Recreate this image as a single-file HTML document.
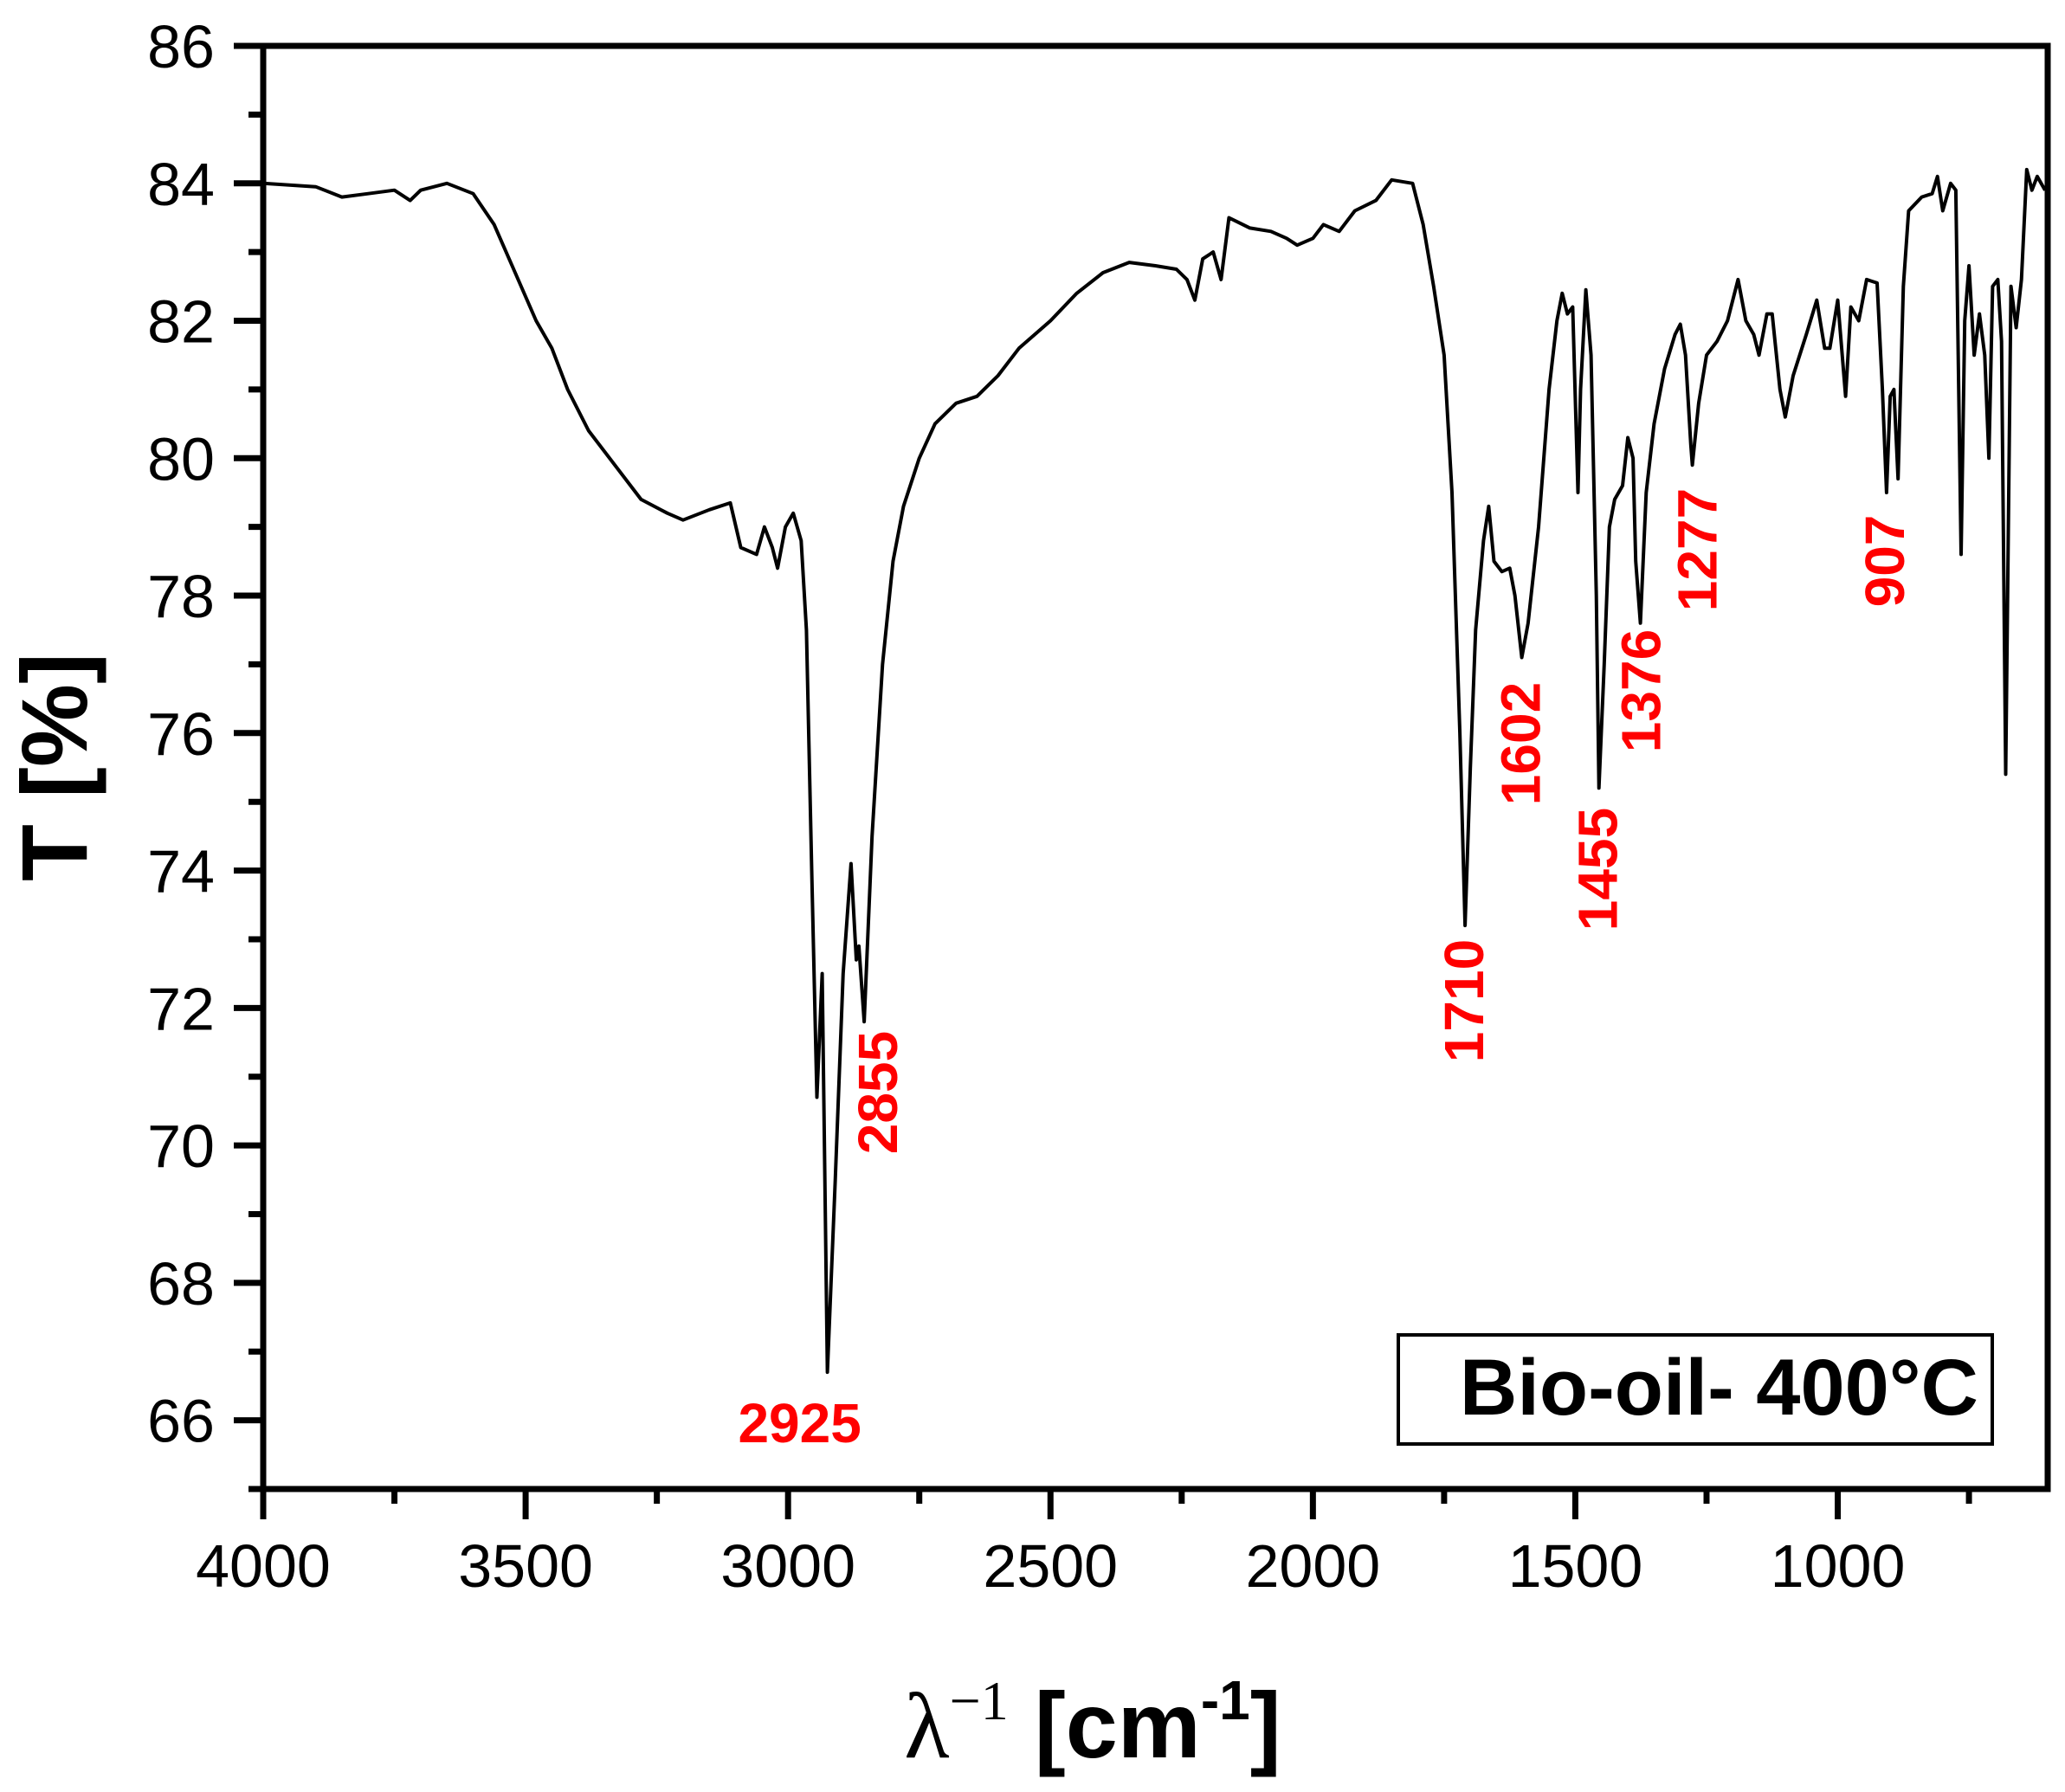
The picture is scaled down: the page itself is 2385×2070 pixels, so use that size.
<!DOCTYPE html>
<html><head><meta charset="utf-8"><style>
html,body{margin:0;padding:0;background:#fff;}
svg{display:block;font-family:"Liberation Sans",Arial,sans-serif;}
</style></head><body>
<svg id="chart" width="2385" height="2070" viewBox="0 0 2385 2070" xmlns="http://www.w3.org/2000/svg">
<g id="axes"></g>
<path id="spectrum" fill="none" stroke="#000" stroke-width="4" stroke-linejoin="round"></path>
<g id="peaks"></g>
<rect x="1615" y="1542" width="686" height="126" fill="#fff" stroke="#000" stroke-width="4"/>
<text x="2285" y="1634" text-anchor="end" font-size="92" font-weight="bold">Bio-oil- 400°C</text>
<text transform="translate(100,886) rotate(-90)" text-anchor="middle" font-size="108" font-weight="bold">T [%]</text>
<text x="1262" y="2030" text-anchor="middle" font-size="108" font-weight="bold"><tspan font-family="'Liberation Serif',serif" font-weight="normal">λ</tspan><tspan font-family="'Liberation Serif',serif" font-weight="normal" font-size="64" dy="-44">−1</tspan><tspan dy="44"> [cm</tspan><tspan font-size="64" dy="-44">-1</tspan><tspan dy="44">]</tspan></text>
</svg>
<script>
const wavenumbers=[4000,3900,3850,3800,3750,3720,3700,3650,3600,3560,3520,3480,3450,3420,3380,3330,3280,3230,3200,3150,3110,3090,3060,3045,3030,3020,3005,2990,2975,2965,2955,2945,2935,2925,2910,2895,2880,2870,2865,2855,2840,2820,2800,2780,2750,2720,2680,2640,2600,2560,2500,2450,2400,2350,2300,2260,2240,2225,2210,2190,2175,2160,2120,2080,2050,2030,2000,1980,1950,1920,1880,1850,1810,1790,1770,1750,1735,1720,1710,1700,1690,1675,1665,1655,1640,1625,1615,1602,1590,1570,1550,1535,1525,1515,1505,1495,1490,1480,1470,1460,1455,1445,1435,1425,1410,1400,1390,1385,1376,1365,1350,1330,1310,1300,1290,1280,1277,1265,1250,1230,1210,1190,1175,1160,1150,1135,1125,1110,1100,1085,1060,1040,1025,1015,1000,985,975,960,945,925,915,907,900,893,885,875,865,840,820,810,800,785,775,765,758,750,740,730,720,712,705,695,688,680,670,660,650,640,630,620,605];
const transmittance=[84.0,83.95,83.8,83.85,83.9,83.75,83.9,84.0,83.85,83.4,82.7,82.0,81.6,81.0,80.4,79.9,79.4,79.2,79.1,79.25,79.35,78.7,78.6,79.0,78.7,78.4,79.0,79.2,78.8,77.5,74.0,70.7,72.5,66.7,69.5,72.5,74.1,72.7,72.9,71.8,74.5,77.0,78.5,79.3,80.0,80.5,80.8,80.9,81.2,81.6,82.0,82.4,82.7,82.85,82.8,82.75,82.6,82.3,82.9,83.0,82.6,83.5,83.35,83.3,83.2,83.1,83.2,83.4,83.3,83.6,83.75,84.05,84.0,83.4,82.5,81.5,79.5,76.0,73.2,75.5,77.5,78.8,79.3,78.5,78.35,78.4,78.0,77.1,77.6,79.0,81.0,82.0,82.4,82.1,82.2,79.5,81.0,82.45,81.5,78.0,75.2,77.0,79.0,79.4,79.6,80.3,80.0,78.5,77.6,79.5,80.5,81.3,81.8,81.95,81.5,80.2,79.9,80.8,81.5,81.7,82.0,82.6,82.0,81.8,81.5,82.1,82.1,81.0,80.6,81.2,81.8,82.3,81.6,81.6,82.3,80.9,82.2,82.0,82.6,82.55,81.0,79.5,80.9,81.0,79.7,82.5,83.6,83.8,83.85,84.1,83.6,84.0,83.9,78.6,82.0,82.8,81.5,82.1,81.5,80.0,82.5,82.6,81.7,75.4,82.5,81.9,82.6,84.2,83.9,84.1,83.9];
const xTicks=[4000,3500,3000,2500,2000,1500,1000];
const yTicks=[66,68,70,72,74,76,78,80,82,84,86];
const peakLabels=["2925","2855","1710","1602","1455","1376","1277","907"];
const peakWavenumbers=[2925,2855,1710,1602,1455,1376,1277,907];

const L=304,R=2365,T=53,B=1720,X0=4000,X1=600,Y0=65,Y1=86;
const x=w=>L+(X0-w)/(X0-X1)*(R-L);
const y=v=>B-(v-Y0)/(Y1-Y0)*(B-T);
const NS="http://www.w3.org/2000/svg";
const axes=document.getElementById('axes');
function mk(tag,attrs,parent){const e=document.createElementNS(NS,tag);for(const k in attrs)e.setAttribute(k,attrs[k]);parent.appendChild(e);return e;}

const frame=mk('rect',{x:L,y:T,width:R-L,height:B-T,fill:'none',stroke:'#000','stroke-width':7},axes);



for(const t of yTicks){
  const tk=mk('line',{x1:L-34,x2:L,y1:y(t),y2:y(t),stroke:'#000','stroke-width':7},axes);
  
  
  const lb=mk('text',{x:L-56,y:y(t)+25,'text-anchor':'end','font-size':70},axes);
  lb.textContent=t;
  
  
  if(t<86){
    const mn=mk('line',{x1:L-17,x2:L,y1:y(t+1),y2:y(t+1),stroke:'#000','stroke-width':7},axes);
    
    
  }
}
const mn65=mk('line',{x1:L-17,x2:L,y1:y(65),y2:y(65),stroke:'#000','stroke-width':7},axes);



for(const t of xTicks){
  const tk=mk('line',{x1:x(t),x2:x(t),y1:B,y2:B+35,stroke:'#000','stroke-width':7},axes);
  
  
  const lb=mk('text',{x:x(t),y:B+113,'text-anchor':'middle','font-size':70},axes);
  lb.textContent=t;
  
  
  if(t-250>=X1){
    const mn=mk('line',{x1:x(t-250),x2:x(t-250),y1:B,y2:B+17,stroke:'#000','stroke-width':7},axes);
    
    
  }
}

let d='';
for(let i=0;i<wavenumbers.length;i++){d+=(i?'L':'M')+x(wavenumbers[i]).toFixed(1)+' '+y(transmittance[i]).toFixed(1);}
document.getElementById('spectrum').setAttribute('d',d);

const peaks=document.getElementById('peaks');
const labelOffsets=[[-32,1643,0],[15,1262,1],[-2,1156,1],[-2,859,1],[-2,1004,1],[0,798,1],[5,635,1],[-3,648,1]];
for(let i=0;i<peakLabels.length;i++){
  const o=labelOffsets[i];
  const cx=x(peakWavenumbers[i])+o[0];
  const t=mk('text',{'text-anchor':'middle','font-size':64,'font-weight':'bold',fill:'#ff0000'},peaks);
  if(o[2]){t.setAttribute('transform','translate('+(cx+23)+','+o[1]+') rotate(-90)');}
  else{t.setAttribute('x',cx);t.setAttribute('y',o[1]+23);}
  t.textContent=peakLabels[i];
  
  
}
</script>
</body></html>
